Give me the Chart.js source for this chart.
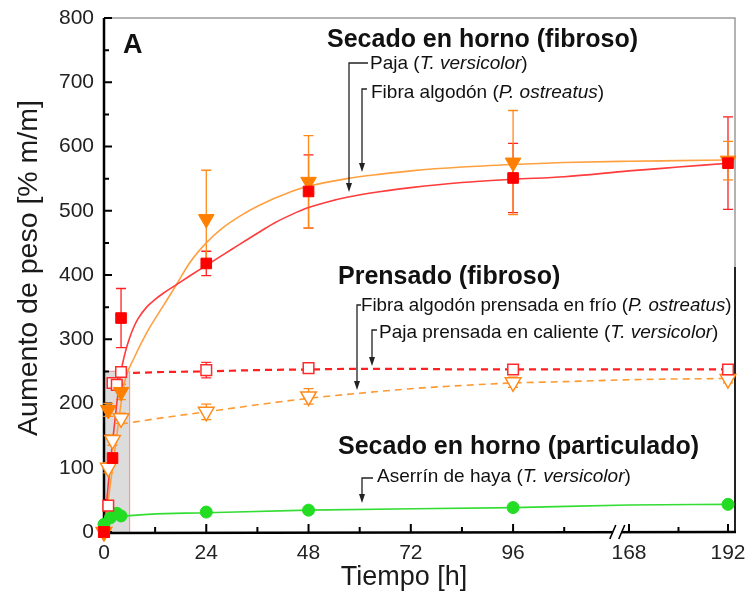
<!DOCTYPE html>
<html><head><meta charset="utf-8">
<script src="https://cdn.jsdelivr.net/npm/chart.js@4.4.0/dist/chart.umd.min.js"></script>
<style>html,body{margin:0;padding:0;background:#fff;}canvas{display:block;}</style>
</head><body>
<canvas id="c" width="746" height="605"></canvas>
<script>
const FONT = '"Liberation Sans", Arial, Helvetica, sans-serif';

// ---------- tick labels ----------
const xMajorTicks = [0, 24, 48, 72, 96, 168, 192];
const xMinorTicks = [12, 36, 60, 84, 108, 180];
const yMajorTicks = [0, 100, 200, 300, 400, 500, 600, 700, 800];
const yMinorTicks = [50, 150, 250, 350, 450, 550, 650, 750];

// ---------- measured points ----------
// Secado en horno (fibroso) - Paja (T. versicolor)
const pajaTimes  = [0, 1, 4, 24, 48, 96, 192];
const pajaValues = [0, 190, 218, 487, 545, 575, 578];
const pajaErrors = [0, 10, 12, 76, 72, 81, 30];
// Secado en horno (fibroso) - Fibra algodón (P. ostreatus)
const algTimes  = [0, 2, 4, 24, 48, 96, 192];
const algValues = [0, 115, 333, 418, 530, 551, 574];
const algErrors = [0, 8, 46, 19, 57, 54, 72];
// Prensado - Fibra algodón prensada en frío (P. ostreatus)
const frioTimes  = [0, 1, 2, 3, 4, 24, 48, 96, 192];
const frioValues = [0, 41, 232, 229, 249, 252, 255, 253, 253];
const frioErrors = [0, 5, 8, 8, 8, 12, 5, 6, 6];
// Prensado - Paja prensada en caliente (T. versicolor)
const calTimes  = [0, 1, 2, 4, 24, 48, 96, 192];
const calValues = [0, 100, 143, 177, 187, 211, 233, 238];
const calErrors = [0, 8, 8, 8, 12, 12, 8, 6];
// Secado en horno (particulado) - Aserrín de haya (T. versicolor)
const aseTimes  = [0, 1.5, 3, 4, 24, 48, 96, 192];
const aseValues = [12, 22, 29, 25, 31, 34, 38, 43];

// ---------- fitted curves ----------
const fitAlgTimes = [0,1,2,3,4,5,6,7,8,10,12,14,17,20,24,30,36,40,44,48,52,57,65,72,84,96,108,168,180,192];
const fitAlg      = [0,75,140,200,250,280,302,319,332,350,362,372,385,398,415,440,465,481,494,505,513,521,530,536,544,549,553,562,568,574];
const fitPajaTimes = [0,1,2,3,4,5,7,10,14,17,20,24,28,32,36,44,48,57,65,72,84,96,108,168,180,192];
const fitPaja      = [0,50,100,150,200,238,270,310,353,385,418,450,474,492,507,530,538,550,557,562,568,572,575,577,578,579];
const dashTimes = [4,14,24,36,48,60,72,84,96,108,168,192];
const dashFrio  = [247,249,250,252,253,254,254,253,253,253,253,253];
const dashCal   = [168,178,187,198,208,216,223,228,232,234,237,239];
const aseFitTimes  = [0,2,4,24,48,96,168,192];
const aseFitValues = [10,20,24,30,34,38,42,43];

// shaded zoom region
const shadeTime = [0, 6];
const shadeValue = [0, 250];

// ---------- texts ----------
const panelLetter = 'A';
const groupTitles = ['Secado en horno (fibroso)', 'Prensado (fibroso)', 'Secado en horno (particulado)'];
const yTitle = 'Aumento de peso [% m/m]';
const xTitle = 'Tiempo [h]';

// axis break mapping (hours -> axis units)
const BREAK_LOW = 120, BREAK_HIGH = 168, BREAK_POS = 123.2, HIGH_SCALE = 0.968;
function brk(t){ return t <= BREAK_LOW ? t : BREAK_POS + (t - BREAK_HIGH) * HIGH_SCALE; }
const X_MAX = brk(193.7);

function pts(times, vals){ return times.map((t, i) => ({x: brk(t), y: vals[i]})); }

const RED = '#ff0000', ORANGE = '#ff8000', GREEN = '#22dd22';

const datasets = [
  {label:'alg', data: pts(algTimes, algValues), errors: algErrors, errColor:'#ff2020', showLine:false,
   pointStyle:'rect', pointRadius:7.5, pointBackgroundColor:RED, pointBorderColor:RED, pointBorderWidth:1, clip:false},
  {label:'paja', data: pts(pajaTimes, pajaValues), errors: pajaErrors, errColor:'#ff8a1a', showLine:false,
   pointStyle:'triangle', pointRotation:180, pointRadius:9, pointBackgroundColor:ORANGE, pointBorderColor:ORANGE, pointBorderWidth:1, clip:false},
  {label:'frio', data: pts(frioTimes, frioValues), errors: frioErrors, errColor:'#ff2a2a', showLine:false,
   pointStyle:'rect', pointRadius:7.5, pointBackgroundColor:'#ffffff', pointBorderColor:'#ff2a2a', pointBorderWidth:1.5, clip:false},
  {label:'cal', data: pts(calTimes, calValues), errors: calErrors, errColor:'#ff8a1a', showLine:false,
   pointStyle:'triangle', pointRotation:180, pointRadius:9, pointBackgroundColor:'#ffffff', pointBorderColor:'#ff8a1a', pointBorderWidth:1.5, clip:false},
  {label:'ase', data: pts(aseTimes, aseValues), showLine:false,
   pointStyle:'circle', pointRadius:6, pointBackgroundColor:GREEN, pointBorderColor:GREEN, pointBorderWidth:1, clip:false},
  {label:'fitAlg', data: pts(fitAlgTimes, fitAlg), showLine:true, pointRadius:0, borderColor:'#ff3b3b', borderWidth:1.6, cubicInterpolationMode:'monotone', clip:false},
  {label:'fitPaja', data: pts(fitPajaTimes, fitPaja), showLine:true, pointRadius:0, borderColor:'#ffa040', borderWidth:1.6, cubicInterpolationMode:'monotone', clip:false},
  {label:'dashFrio', data: pts(dashTimes, dashFrio), showLine:true, pointRadius:0, borderColor:'#ff2020', borderWidth:2.2, borderDash:[7,5], cubicInterpolationMode:'monotone', clip:false},
  {label:'dashCal', data: pts(dashTimes, dashCal), showLine:true, pointRadius:0, borderColor:'#ff9a30', borderWidth:1.6, borderDash:[7,5], cubicInterpolationMode:'monotone', clip:false},
  {label:'fitAse', data: pts(aseFitTimes, aseFitValues), showLine:true, pointRadius:0, borderColor:'#33dd33', borderWidth:1.6, cubicInterpolationMode:'monotone', clip:false}
];

const bgPlugin = {
  id:'bg',
  beforeDraw(chart){ const c = chart.ctx; c.save(); c.fillStyle = '#fff'; c.fillRect(0,0,chart.width,chart.height); c.restore(); }
};

const underPlugin = {
  id:'under',
  beforeDatasetsDraw(chart){
    const ctx = chart.ctx, xs = chart.scales.x, ys = chart.scales.y, a = chart.chartArea;
    ctx.save();
    // shaded region
    const sx0 = xs.getPixelForValue(brk(shadeTime[0])), sx1 = xs.getPixelForValue(brk(shadeTime[1]));
    const sy0 = ys.getPixelForValue(shadeValue[0]), sy1 = ys.getPixelForValue(shadeValue[1]);
    ctx.fillStyle = '#dcdcdc';
    ctx.fillRect(sx0, sy1, sx1 - sx0, sy0 - sy1);
    ctx.strokeStyle = '#f59a9a'; ctx.lineWidth = 1.2;
    ctx.beginPath(); ctx.moveTo(sx1, sy0); ctx.lineTo(sx1, sy1); ctx.lineTo(sx0, sy1); ctx.stroke();

    // frame top and right
    ctx.strokeStyle = '#9a9a9a'; ctx.lineWidth = 1.5;
    ctx.beginPath(); ctx.moveTo(a.left, a.top); ctx.lineTo(a.right, a.top); ctx.lineTo(a.right, 267); ctx.stroke();
    ctx.strokeStyle = '#222'; ctx.lineWidth = 2;
    ctx.beginPath(); ctx.moveTo(a.right, 267); ctx.lineTo(a.right, a.bottom); ctx.stroke();

    // axes
    ctx.strokeStyle = '#000'; ctx.lineWidth = 2.5;
    ctx.beginPath(); ctx.moveTo(a.left, a.top); ctx.lineTo(a.left, a.bottom + 1); ctx.lineTo(a.right + 1, a.bottom); ctx.stroke();

    // inward ticks
    ctx.lineWidth = 2;
    ctx.beginPath();
    yMajorTicks.forEach(v => { const py = ys.getPixelForValue(v); ctx.moveTo(a.left, py); ctx.lineTo(a.left + 8, py); });
    yMinorTicks.forEach(v => { const py = ys.getPixelForValue(v); ctx.moveTo(a.left, py); ctx.lineTo(a.left + 5, py); });
    xMajorTicks.forEach(t => { const px = xs.getPixelForValue(brk(t)); ctx.moveTo(px, a.bottom); ctx.lineTo(px, a.bottom - 8); });
    xMinorTicks.forEach(t => { const px = xs.getPixelForValue(brk(t)); ctx.moveTo(px, a.bottom); ctx.lineTo(px, a.bottom - 5); });
    ctx.stroke();

    // axis break
    const bx0 = xs.getPixelForValue(119.4), bx1 = xs.getPixelForValue(121.5);
    ctx.fillStyle = '#fff';
    ctx.fillRect(bx0, a.bottom - 3, bx1 - bx0, 6);
    ctx.strokeStyle = '#000'; ctx.lineWidth = 1.6;
    ctx.beginPath();
    ctx.moveTo(bx0 - 3, a.bottom + 7); ctx.lineTo(bx0 + 3, a.bottom - 7);
    ctx.moveTo(bx1 - 3, a.bottom + 7); ctx.lineTo(bx1 + 3, a.bottom - 7);
    ctx.stroke();

    // error bars
    chart.data.datasets.forEach(ds => {
      if (!ds.errors) return;
      ctx.strokeStyle = ds.errColor; ctx.lineWidth = 1.3;
      ctx.beginPath();
      ds.data.forEach((p, i) => {
        const e = ds.errors[i]; if (!e) return;
        const px = xs.getPixelForValue(p.x);
        const yt = ys.getPixelForValue(p.y + e), yb = ys.getPixelForValue(p.y - e);
        ctx.moveTo(px, yt); ctx.lineTo(px, yb);
        ctx.moveTo(px - 5, yt); ctx.lineTo(px + 5, yt);
        ctx.moveTo(px - 5, yb); ctx.lineTo(px + 5, yb);
      });
      ctx.stroke();
    });
    ctx.restore();
  }
};

function richText(ctx, x, y, parts, size){
  let cx = x;
  parts.forEach(([txt, it]) => {
    ctx.font = (it ? 'italic ' : '') + size + 'px ' + FONT;
    ctx.fillText(txt, cx, y);
    cx += ctx.measureText(txt).width;
  });
}
function leader(ctx, xh0, xh1, yTop, yTip){
  ctx.beginPath(); ctx.moveTo(xh1, yTop); ctx.lineTo(xh0, yTop); ctx.lineTo(xh0, yTip - 7); ctx.stroke();
  ctx.beginPath(); ctx.moveTo(xh0, yTip); ctx.lineTo(xh0 - 3, yTip - 9); ctx.lineTo(xh0 + 3, yTip - 9); ctx.closePath(); ctx.fill();
}

const textPlugin = {
  id:'texts',
  afterDraw(chart){
    const ctx = chart.ctx;
    ctx.save();
    ctx.fillStyle = '#111'; ctx.strokeStyle = '#222'; ctx.lineWidth = 1.3;
    ctx.textBaseline = 'middle'; ctx.textAlign = 'left';
    ctx.font = 'bold 27px ' + FONT; ctx.fillText(panelLetter, 123, 46);
    ctx.font = 'bold 25px ' + FONT;
    ctx.fillText(groupTitles[0], 327, 40);
    ctx.fillText(groupTitles[1], 338, 277);
    ctx.fillText(groupTitles[2], 338, 447);

    richText(ctx, 370, 64, [['Paja (', false], ['T. versicolor', true], [')', false]], 19);
    richText(ctx, 371, 93, [['Fibra algodón (', false], ['P. ostreatus', true], [')', false]], 19);
    richText(ctx, 361, 306, [['Fibra algodón prensada en frío (', false], ['P. ostreatus', true], [')', false]], 18.7);
    richText(ctx, 379, 333, [['Paja prensada en caliente (', false], ['T. versicolor', true], [')', false]], 19);
    richText(ctx, 377, 477, [['Aserrín de haya (', false], ['T. versicolor', true], [')', false]], 19);

    ctx.fillStyle = '#222';
    leader(ctx, 349, 368, 63, 192);
    leader(ctx, 362, 367, 89, 172);
    leader(ctx, 357, 361, 305, 390);
    leader(ctx, 372, 377, 330, 366);
    leader(ctx, 362, 373, 478, 503);

    // axis titles
    ctx.fillStyle = '#1a1a1a';
    ctx.textAlign = 'center';
    ctx.font = '27px ' + FONT;
    ctx.fillText(xTitle, 404, 578);
    ctx.font = '28.5px ' + FONT;
    ctx.translate(29, 268); ctx.rotate(-Math.PI / 2);
    ctx.fillText(yTitle, 0, 0);
    ctx.restore();
  }
};

new Chart(document.getElementById('c'), {
  type: 'line',
  data: { datasets },
  options: {
    responsive: false, animation: false, events: [],
    layout: { padding: { top: 18, right: 11, left: 0, bottom: 0 } },
    plugins: { legend: { display: false }, tooltip: { enabled: false } },
    scales: {
      x: {
        type: 'linear', min: 0, max: X_MAX,
        afterBuildTicks: s => { s.ticks = xMajorTicks.map(t => ({ value: brk(t) })); },
        ticks: { autoSkip: false, maxRotation: 0, padding: 9, color: '#222',
                 font: { size: 21, family: FONT }, callback: (v, i) => String(xMajorTicks[i]) },
        grid: { display: false, drawTicks: false }, border: { display: false },
        afterFit: s => { s.height = 73; s.paddingLeft = 0; s.paddingRight = 0; }
      },
      y: {
        min: 0, max: 800,
        afterBuildTicks: s => { s.ticks = yMajorTicks.map(v => ({ value: v })); },
        ticks: { padding: 10, color: '#222', font: { size: 21, family: FONT } },
        grid: { display: false, drawTicks: false }, border: { display: false },
        afterFit: s => { s.width = 104; s.paddingTop = 0; s.paddingBottom = 0; }
      }
    }
  },
  plugins: [bgPlugin, underPlugin, textPlugin]
});
</script>
</body></html>
